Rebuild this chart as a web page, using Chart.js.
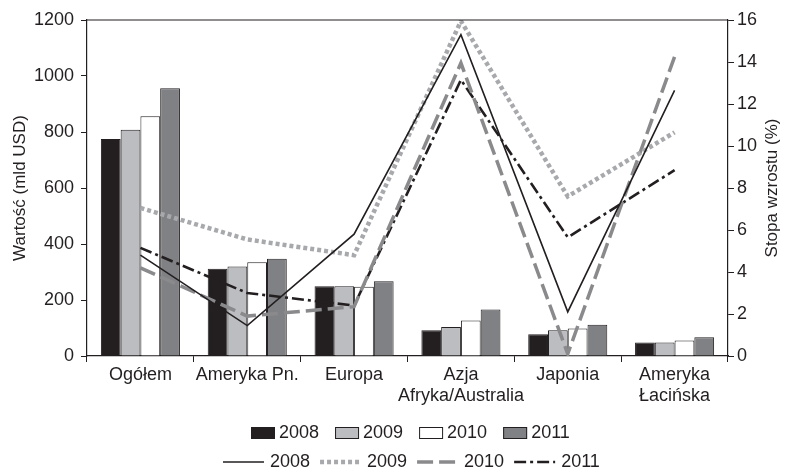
<!DOCTYPE html>
<html>
<head>
<meta charset="utf-8">
<script src="https://cdn.jsdelivr.net/npm/chart.js@4.4.0/dist/chart.umd.min.js"></script>
<style>
  html, body { margin: 0; padding: 0; background: #fff; }
  #wrap { width: 785px; height: 475px; }
</style>
</head>
<body>
<div id="wrap"><canvas id="cv" width="785" height="475"></canvas></div>
<script>
// kategorie i lata
const categories = ["Ogółem", "Ameryka Pn.", "Europa", ["Azja", "Afryka/Australia"], "Japonia", ["Ameryka", "Łacińska"]];
const years = ["2008", "2009", "2010", "2011"];

// wartość (mld USD) - słupki
const value2008 = [775, 312, 249, 92, 78, 48];
const value2009 = [808, 320, 249, 104, 92, 48];
const value2010 = [856, 335, 247, 127, 98, 55];
const value2011 = [956, 347, 267, 166, 112, 67];

// stopa wzrostu (%) - linie
const growth2008 = [4.8, 1.45, 5.8, 15.3, 2.1, 12.65];
const growth2009 = [7.05, 5.55, 4.8, 15.95, 7.6, 10.65];
const growth2010 = [4.2, 1.9, 2.35, 13.95, 0.1, 14.25];
const growth2011 = [5.15, 3.0, 2.4, 13.15, 5.65, 8.85];

const ink = "#231f20";
const font = "'Liberation Sans', Arial, sans-serif";
const rightTitle = "Stopa wzrostu (%)";

const barColors = [ink, "#bcbdc0", "#ffffff", "#808184"];
const barValues = [value2008, value2009, value2010, value2011];
const lineValues = [growth2008, growth2009, growth2010, growth2011];
const lineStyles = [
  { color: ink, width: 1.6, dash: [] },
  { color: "#a7a9ac", width: 4.5, dash: [4, 3] },
  { color: "#8a8a8d", width: 3.5, dash: [16, 6] },
  { color: ink, width: 2.6, dash: [12, 4, 3, 4] }
];

let datasets = [];
years.forEach((y, i) => {
  datasets.push({
    type: "bar",
    label: y,
    data: barValues[i],
    backgroundColor: barColors[i],
    borderColor: ink,
    borderWidth: 1,
    yAxisID: "y",
    order: 2
  });
});
years.forEach((y, i) => {
  datasets.push({
    type: "line",
    label: y,
    data: lineValues[i],
    borderColor: lineStyles[i].color,
    borderWidth: lineStyles[i].width,
    borderDash: lineStyles[i].dash,
    borderCapStyle: "butt",
    tension: 0,
    pointRadius: 0,
    fill: false,
    yAxisID: "y1",
    order: 1
  });
});

// ramka, tytuł prawej osi + legenda w dwóch rzędach
const extras = {
  id: "extras",
  afterDatasetsDraw(chart) {
    const ctx = chart.ctx;
    const a = chart.chartArea;
    ctx.save();
    ctx.strokeStyle = ink;
    ctx.lineWidth = 1.2;
    ctx.beginPath();
    ctx.moveTo(a.left, a.top);
    ctx.lineTo(a.right, a.top);
    ctx.stroke();
    ctx.restore();
  },
  afterDraw(chart) {
    const ctx = chart.ctx;
    const a = chart.chartArea;
    ctx.save();
    // tytuł prawej osi (czytany od dołu)
    ctx.font = "17px " + font;
    ctx.fillStyle = ink;
    ctx.textAlign = "center";
    ctx.textBaseline = "middle";
    ctx.translate(772, (a.top + a.bottom) / 2);
    ctx.rotate(-Math.PI / 2);
    ctx.fillText(rightTitle, 0, 0);
    ctx.restore();

    ctx.save();
    ctx.font = "18px " + font;
    ctx.fillStyle = ink;
    ctx.textBaseline = "middle";
    // rząd 1 - słupki
    let x = 251, y = 433;
    years.forEach((yr, i) => {
      ctx.fillStyle = barColors[i];
      ctx.fillRect(x, y - 6, 24, 12);
      ctx.strokeStyle = ink;
      ctx.lineWidth = 1;
      ctx.strokeRect(x + 0.5, y - 5.5, 23, 11);
      ctx.fillStyle = ink;
      ctx.fillText(yr, x + 28, y);
      x += 28 + ctx.measureText(yr).width + 16;
    });
    // rząd 2 - linie
    x = 223; y = 462;
    years.forEach((yr, i) => {
      const s = lineStyles[i];
      ctx.strokeStyle = s.color;
      ctx.lineWidth = s.width;
      ctx.setLineDash(s.dash);
      ctx.lineCap = "butt";
      ctx.beginPath();
      ctx.moveTo(x, y);
      ctx.lineTo(x + 41, y);
      ctx.stroke();
      ctx.setLineDash([]);
      ctx.fillStyle = ink;
      ctx.fillText(yr, x + 47, y);
      x += 47 + ctx.measureText(yr).width + 10;
    });
    ctx.restore();
  }
};

const config = {
  data: { labels: categories, datasets: datasets },
  options: {
    responsive: false,
    animation: false,
    layout: { padding: { top: 20, left: 0, right: 0, bottom: 0 } },
    plugins: { legend: { display: false }, tooltip: { enabled: false } },
    datasets: { bar: { categoryPercentage: 0.74, barPercentage: 1.0 } },
    scales: {
      x: {
        offset: true,
        grid: { display: true, offset: true, drawOnChartArea: false, drawTicks: true, tickLength: 6, color: ink },
        border: { color: ink, width: 1.2 },
        ticks: { color: ink, font: { family: font, size: 18 }, padding: 2, maxRotation: 0, autoSkip: false },
        afterFit: (s) => { s.height = 119; }
      },
      y: {
        position: "left",
        min: 0, max: 1200,
        ticks: { stepSize: 200, color: ink, font: { family: font, size: 18 }, padding: 7, callback: (v) => String(v) },
        grid: { drawOnChartArea: false, drawTicks: true, tickLength: 6, color: ink },
        border: { color: ink, width: 1.2 },
        title: { display: true, text: "Wartość (mld USD)", color: ink, font: { family: font, size: 17 }, padding: { top: 10, bottom: 2 } },
        afterFit: (s) => { s.width = 87; }
      },
      y1: {
        position: "right",
        min: 0, max: 16,
        ticks: { stepSize: 2, color: ink, font: { family: font, size: 18 }, padding: 3, callback: (v) => String(v) },
        grid: { drawOnChartArea: false, drawTicks: true, tickLength: 6, color: ink },
        border: { color: ink, width: 1.2 },
        title: { display: false },
        afterFit: (s) => { s.width = 57; }
      }
    }
  },
  plugins: [extras]
};

new Chart(document.getElementById("cv").getContext("2d"), config);
</script>
</body>
</html>
